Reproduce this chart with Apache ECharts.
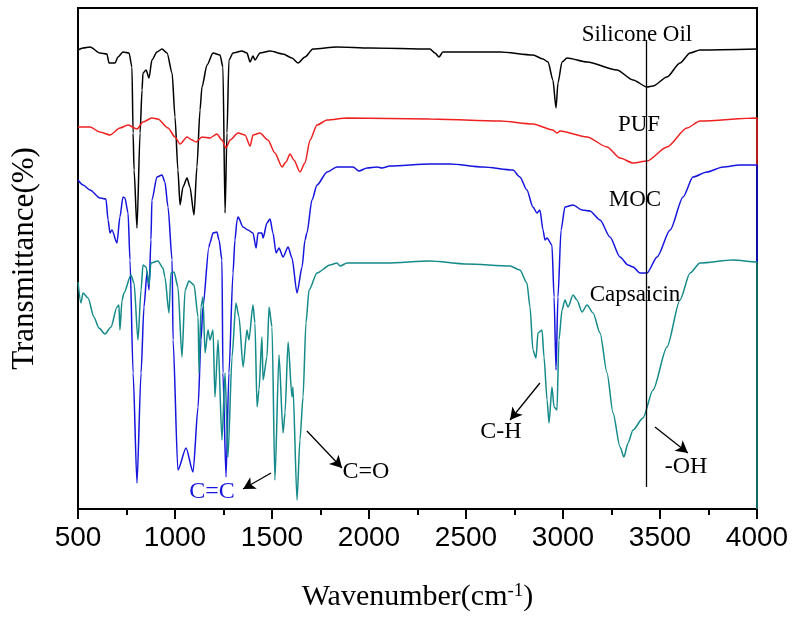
<!DOCTYPE html>
<html>
<head>
<meta charset="utf-8">
<script src="https://cdn.jsdelivr.net/npm/echarts@6/dist/echarts.min.js"></script>
<style>
html,body{margin:0;padding:0;background:#fff;}
#chart{width:793px;height:626px;}
</style>
</head>
<body>
<div id="chart"></div>
<script>
// Wavenumber (cm-1) and offset transmittance values
const wnSilicone = [500,526,562,613,649,660,691,706,732,763,778,784,789,804,820,830,835,851,866,881,907,933,959,985,1000,1015,1026,1041,1062,1077,1098,1113,1129,1139,1165,1196,1232,1247,1258,1268,1278,1299,1345,1371,1387,1402,1412,1438,1490,1557,1603,1634,1670,1711,1835,2005,2314,2340,2361,2381,2675,2845,2897,2923,2948,2964,2974,2995,3021,3124,3278,3361,3433,3464,3536,3603,3655,3706,4000];
const tSilicone = [91.8,92.2,92.4,91.2,91.0,89.2,89.2,90.4,91.4,91.2,88.4,75.2,67.8,56.2,75.2,83.8,87.2,87.8,86.2,89.8,91.4,92.0,91.2,87.2,78.4,67.8,60.8,64.4,66.2,64.4,58.8,68.4,79.8,84.4,88.8,91.2,90.8,88.4,59.2,75.2,89.8,91.2,91.6,91.2,89.4,90.6,89.8,91.2,91.6,91.0,90.2,89.2,90.4,92.0,92.4,92.2,92.0,91.2,90.4,91.4,91.4,90.8,90.0,89.4,85.8,80.2,85.2,89.4,90.2,89.4,87.8,85.8,84.4,84.6,86.4,89.2,91.2,91.8,92.0];

const wnPUF = [500,562,613,665,716,758,804,835,881,912,964,1000,1026,1062,1088,1108,1139,1180,1216,1242,1263,1284,1325,1361,1387,1402,1438,1479,1515,1552,1572,1593,1613,1644,1670,1696,1732,1784,1887,2314,2675,2845,2948,2969,2985,3124,3227,3294,3361,3433,3536,3639,3706,4000,4000];
const tPUF = [76.4,76.4,75.4,74.8,76.2,76.8,76.0,77.4,78.2,78.0,76.2,74.4,73.0,74.4,73.8,73.4,74.4,74.2,75.0,73.8,72.2,73.8,75.2,74.8,72.6,74.8,75.2,73.8,71.2,68.4,69.4,71.0,69.8,67.4,69.2,73.8,76.8,77.8,78.2,78.0,77.6,77.0,75.8,75.2,75.6,74.4,72.4,70.2,69.2,69.6,72.4,76.2,77.6,78.2,68.8];

const wnMOC = [500,526,562,613,644,655,665,675,701,716,732,742,758,768,784,804,825,840,856,866,876,881,907,933,948,964,985,990,1015,1057,1093,1119,1134,1144,1175,1180,1196,1216,1227,1242,1247,1263,1278,1299,1309,1320,1325,1351,1376,1402,1418,1428,1448,1454,1474,1490,1505,1521,1536,1557,1583,1603,1629,1655,1670,1680,1706,1732,1784,1835,1918,1948,1990,2041,2067,2108,2314,2418,2588,2742,2778,2814,2845,2866,2881,2897,2907,2918,2943,2954,2964,2974,2990,3010,3052,3098,3139,3191,3242,3294,3335,3361,3397,3433,3485,3552,3619,3670,3742,3825,3912,4000,4000];
const tMOC = [65.8,64.8,63.8,62.2,62.0,57.8,55.2,55.8,53.2,58.4,62.4,62.2,59.2,49.8,27.2,5.2,27.2,40.4,47.4,43.8,53.8,61.8,66.4,66.8,65.4,60.4,49.8,33.8,7.8,12.2,7.4,20.4,33.8,40.4,52.4,53.2,55.2,55.4,53.8,49.8,27.2,6.4,27.2,47.2,53.8,57.8,58.4,56.4,55.8,55.2,52.2,55.2,55.2,54.2,57.2,58.0,55.2,51.2,52.2,50.4,52.4,50.2,43.2,48.4,53.8,55.2,61.8,64.8,67.4,68.4,68.4,67.6,68.2,68.4,68.2,68.6,69.0,69.0,68.4,67.8,66.4,63.8,60.4,59.2,59.8,55.8,53.8,54.2,52.8,42.4,27.8,42.4,55.8,60.4,60.8,59.8,59.6,57.8,54.4,50.4,48.8,48.4,47.2,47.2,50.4,55.8,62.4,66.4,67.4,68.4,68.8,68.8,49.4];

const wnCapsaicin = [500,515,526,552,582,608,639,670,701,711,716,727,737,773,789,809,825,835,851,866,876,912,938,948,969,979,995,1015,1036,1052,1072,1098,1119,1124,1134,1144,1155,1170,1180,1196,1206,1222,1242,1258,1273,1294,1314,1330,1351,1371,1381,1402,1412,1423,1433,1448,1454,1474,1485,1500,1515,1536,1557,1567,1583,1603,1608,1629,1644,1660,1675,1691,1732,1799,1835,1851,1887,2093,2314,2505,2727,2778,2814,2830,2845,2861,2871,2892,2902,2918,2928,2943,2954,2969,2979,2995,3010,3026,3052,3072,3098,3124,3155,3191,3227,3258,3294,3314,3335,3361,3412,3464,3536,3603,3655,3706,3876,4000,4000];
const tCapsaicin = [45.4,41.2,43.2,42.2,38.4,36.2,35.0,36.4,40.4,40.8,35.8,41.8,43.2,46.8,45.2,33.8,43.8,48.8,48.4,44.8,49.2,49.6,48.2,46.4,39.2,47.2,47.4,44.4,30.4,43.8,45.6,44.8,38.4,27.2,40.4,42.4,31.2,35.8,33.8,35.8,22.4,33.8,13.8,27.2,10.4,30.4,41.2,38.4,28.4,35.8,33.8,40.8,37.2,20.4,23.8,34.4,25.8,30.4,40.4,36.4,5.8,30.8,15.2,19.2,33.4,22.4,24.4,1.8,13.8,22.4,37.2,43.8,47.2,48.8,49.2,48.6,49.2,49.2,49.6,49.0,48.6,47.8,45.2,40.4,31.8,30.2,35.2,35.8,30.4,21.8,17.2,24.4,20.4,19.8,33.8,39.8,41.8,40.4,42.8,41.8,39.4,40.8,39.2,35.2,27.2,19.2,12.4,10.4,13.2,15.8,18.2,23.8,32.4,41.8,47.2,49.2,49.8,49.4,0];

const seriesNames = ['Silicone Oil','PUF','MOC','Capsaicin'];
const xTickValues = [500,1000,1500,2000,2500,3000,3500,4000];

// annotation arrows in data coordinates [from, to]
const arrowCC = [[1495,7.2],[1351,4.0]];
const arrowCO = [[1680,15.6],[1861,8.2]];
const arrowCH = [[2881,25.2],[2727,17.8]];
const arrowOH = [[3474,16.4],[3644,11.2]];
const ohLine = [[3428,93.8],[3428,4.4]];

function pairs(xs, ys){ return xs.map((x,i)=>[x, ys[i]]); }

const chart = echarts.init(document.getElementById('chart'), null, {renderer:'canvas'});
const serif = 'Liberation Serif, Times New Roman, serif';
const lineBase = {type:'line', showSymbol:false, symbol:'none', smooth:0.25, smoothMonotone:'x', animation:false};

function arrowItem(a){
  return [{coord:a[0]},{coord:a[1]}];
}

const option = {
  animation:false,
  backgroundColor:'#fff',
  grid:{left:78,right:36,top:8,bottom:117,show:true,borderColor:'#000',borderWidth:2,backgroundColor:'transparent'},
  xAxis:{
    type:'value', min:500, max:4000, interval:500,
    axisLine:{show:true,onZero:false,lineStyle:{color:'#000',width:2}},
    axisTick:{show:true,inside:false,length:10,lineStyle:{color:'#000',width:2}},
    minorTick:{show:true,splitNumber:2,length:6,lineStyle:{color:'#000',width:2}},
    splitLine:{show:false},
    axisLabel:{fontFamily:'Liberation Sans, Arial, sans-serif',fontSize:28,color:'#000',margin:15,
      formatter:function(v){ return xTickValues.indexOf(v)>=0 ? String(v) : ''; }},
    name:'{a|Wavenumber(cm}{s|-1}{a|)}',
    nameLocation:'middle', nameGap:73,
    nameTextStyle:{rich:{
      a:{fontFamily:serif,fontSize:30,color:'#000'},
      s:{fontFamily:serif,fontSize:19,color:'#000',verticalAlign:'top'}
    }}
  },
  yAxis:{
    type:'value', min:0, max:100.2,
    axisLine:{show:true,lineStyle:{color:'#000',width:2}},
    axisTick:{show:false}, axisLabel:{show:false}, splitLine:{show:false},
    name:'Transmittance(%)', nameLocation:'middle', nameGap:38,
    nameTextStyle:{fontFamily:serif,fontSize:31,color:'#000'}
  },
  series:[
    Object.assign({}, lineBase, {name:seriesNames[0], data:pairs(wnSilicone,tSilicone), lineStyle:{width:1.5,color:'#000000'}, itemStyle:{color:'#000000'}}),
    Object.assign({}, lineBase, {name:seriesNames[1], data:pairs(wnPUF,tPUF), lineStyle:{width:1.5,color:'#ee2020'}, itemStyle:{color:'#ee2020'}}),
    Object.assign({}, lineBase, {name:seriesNames[2], data:pairs(wnMOC,tMOC), lineStyle:{width:1.5,color:'#1515dd'}, itemStyle:{color:'#1515dd'}}),
    Object.assign({}, lineBase, {name:seriesNames[3], data:pairs(wnCapsaicin,tCapsaicin), lineStyle:{width:1.5,color:'#158a8a'}, itemStyle:{color:'#158a8a'},
      markLine:{
        silent:true, animation:false,
        symbol:['none','arrow'], symbolSize:[10,12],
        label:{show:false},
        lineStyle:{color:'#000',width:1.3,type:'solid'},
        emphasis:{disabled:true},
        data:[arrowItem(arrowCC),arrowItem(arrowCO),arrowItem(arrowCH),arrowItem(arrowOH),
          [{coord:ohLine[0],symbol:'none'},{coord:ohLine[1],symbol:'none'}]]
      }
    })
  ],
  graphic:[
    {type:'text',x:637,y:35,style:{text:'Silicone Oil',font:'23px '+serif,fill:'#000',align:'center',verticalAlign:'middle'},z:100},
    {type:'text',x:639,y:125,style:{text:'PUF',font:'23px '+serif,fill:'#000',align:'center',verticalAlign:'middle'},z:100},
    {type:'text',x:635,y:200,style:{text:'MOC',font:'23px '+serif,fill:'#000',align:'center',verticalAlign:'middle'},z:100},
    {type:'text',x:635,y:295,style:{text:'Capsaicin',font:'23px '+serif,fill:'#000',align:'center',verticalAlign:'middle'},z:100},
    {type:'text',x:501,y:432,style:{text:'C-H',font:'24px '+serif,fill:'#000',align:'center',verticalAlign:'middle'},z:100},
    {type:'text',x:686,y:467,style:{text:'-OH',font:'24px '+serif,fill:'#000',align:'center',verticalAlign:'middle'},z:100},
    {type:'text',x:366,y:472,style:{text:'C=O',font:'24px '+serif,fill:'#000',align:'center',verticalAlign:'middle'},z:100},
    {type:'text',x:212,y:492,style:{text:'C=C',font:'24px '+serif,fill:'#1515dd',align:'center',verticalAlign:'middle'},z:100}
  ]
};
chart.setOption(option);
</script>
</body>
</html>
